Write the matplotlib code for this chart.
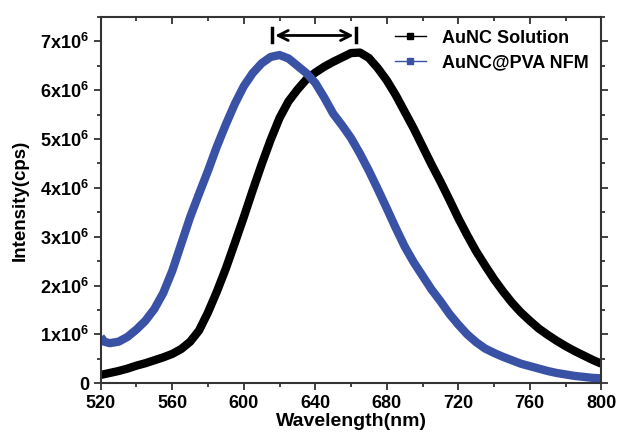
import matplotlib
matplotlib.use("Agg")
import matplotlib.pyplot as plt
from matplotlib.lines import Line2D
from matplotlib.ticker import MultipleLocator, FuncFormatter

plt.rcParams['font.family'] = ['Liberation Sans', 'DejaVu Sans']
plt.rcParams['font.weight'] = 'bold'
plt.rcParams['mathtext.fontset'] = 'custom'
plt.rcParams['mathtext.rm'] = 'Liberation Sans:bold'
plt.rcParams['mathtext.bf'] = 'Liberation Sans:bold'

# AuNC Solution (black), intensity in units of 1e6 cps
sol_wl = [520, 525, 530, 535, 540, 545, 550, 555, 560, 565, 570, 575, 580, 585, 590, 595,
          600, 605, 610, 615, 620, 625, 630, 635, 640, 645, 650, 655, 660, 665, 670, 675,
          680, 685, 690, 695, 700, 705, 710, 715, 720, 725, 730, 735, 740, 745, 750, 755,
          760, 765, 770, 775, 780, 785, 790, 795, 800]
sol_int = [0.17, 0.21, 0.25, 0.30, 0.36, 0.41, 0.47, 0.53, 0.60, 0.70, 0.85, 1.08, 1.45, 1.88, 2.35, 2.87,
           3.40, 3.95, 4.48, 4.98, 5.43, 5.77, 6.01, 6.22, 6.36, 6.48, 6.58, 6.67, 6.76, 6.77, 6.66, 6.45,
           6.20, 5.90, 5.56, 5.22, 4.85, 4.48, 4.13, 3.76, 3.38, 3.03, 2.70, 2.41, 2.13, 1.88, 1.65, 1.45,
           1.28, 1.12, 0.99, 0.87, 0.76, 0.66, 0.57, 0.48, 0.40]

# AuNC@PVA NFM (blue)
nfm_wl = [520, 522, 525, 530, 535, 540, 545, 550, 555, 560, 565, 570, 575, 580, 585, 590,
          595, 600, 605, 610, 615, 620, 625, 630, 635, 640, 645, 650, 655, 660, 665, 670,
          675, 680, 685, 690, 695, 700, 705, 710, 715, 720, 725, 730, 735, 740, 745, 750,
          755, 760, 765, 770, 775, 780, 785, 790, 795, 800]
nfm_int = [0.95, 0.85, 0.82, 0.85, 0.95, 1.10, 1.28, 1.52, 1.85, 2.30, 2.85, 3.40, 3.88, 4.35, 4.85, 5.30,
           5.72, 6.08, 6.35, 6.55, 6.68, 6.72, 6.65, 6.50, 6.35, 6.15, 5.85, 5.52, 5.28, 5.02, 4.70, 4.35,
           3.97, 3.58, 3.18, 2.80, 2.48, 2.20, 1.92, 1.68, 1.42, 1.20, 1.00, 0.84, 0.71, 0.62, 0.54, 0.47,
           0.40, 0.35, 0.30, 0.25, 0.21, 0.18, 0.15, 0.13, 0.11, 0.10]

labels = ["AuNC Solution", "AuNC@PVA NFM"]
blue = "#3a52a6"

fig = plt.figure(figsize=(6.18, 4.34), dpi=100)
ax = fig.add_axes([0.163, 0.117, 0.810, 0.844])

ax.plot(sol_wl, [v * 1e6 for v in sol_int], color="black", lw=6, solid_capstyle="butt",
        solid_joinstyle="round")
ax.plot(nfm_wl, [v * 1e6 for v in nfm_int], color=blue, lw=6, solid_capstyle="butt",
        solid_joinstyle="round")

# peak shift arrow
ax.annotate("", xy=(663, 7.12e6), xytext=(616, 7.12e6),
            arrowprops=dict(arrowstyle="<->", lw=2, color="black", mutation_scale=18))
ax.plot([616, 616], [6.98e6, 7.28e6], color="black", lw=2.5)
ax.plot([663, 663], [6.98e6, 7.28e6], color="black", lw=2.5)

ax.set_xlim(520, 800)
ax.set_ylim(0, 7.5e6)
ax.xaxis.set_major_locator(MultipleLocator(40))
ax.xaxis.set_minor_locator(MultipleLocator(20))
ax.yaxis.set_major_locator(MultipleLocator(1e6))
ax.yaxis.set_minor_locator(MultipleLocator(0.5e6))


def fmt(v, pos):
    n = int(round(v / 1e6))
    if n == 0:
        return "0"
    return r"$\mathbf{%dx10^{6}}$" % n


ax.yaxis.set_major_formatter(FuncFormatter(fmt))

for s in ax.spines.values():
    s.set_linewidth(1.5)
    s.set_color("#333333")

ax.tick_params(axis="both", which="both", direction="out", width=1.3, colors="#333333",
               labelcolor="black", labelsize=13)
ax.tick_params(which="major", length=5)
ax.tick_params(which="minor", length=3)
ax.tick_params(axis="x", which="both", top=True)
ax.tick_params(axis="y", which="both", right=True)

# top ticks point inward, the rest outward
for t in ax.xaxis.get_major_ticks() + ax.xaxis.get_minor_ticks():
    t.tick2line.set_marker(3)

ax.set_xlabel("Wavelength(nm)", fontsize=14, fontweight="bold", labelpad=1)
ax.set_ylabel("Intensity(cps)", fontsize=13.5, fontweight="bold", labelpad=8)

handles = [Line2D([], [], color="black", lw=1, marker="s", ms=5),
           Line2D([], [], color=blue, lw=1, marker="s", ms=5)]
ax.legend(handles, labels, loc="upper right", frameon=False, fontsize=13,
          handlelength=1.7, handletextpad=0.9, labelspacing=0.45,
          bbox_to_anchor=(1.0, 1.0), borderaxespad=0.3)

fig.savefig("out.png", dpi=100)
